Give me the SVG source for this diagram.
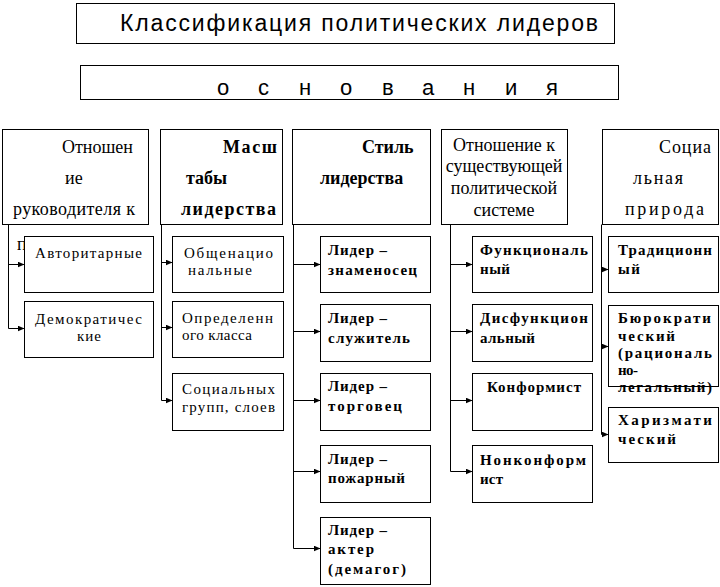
<svg xmlns="http://www.w3.org/2000/svg" width="720" height="587" viewBox="0 0 720 587">
<style>
.box{fill:#fff;stroke:#000;stroke-width:1}
.t{font-family:"Liberation Serif","Times New Roman",serif;fill:#000}
.h{font-size:18px}
.r{font-size:15px}
.s{font-size:15px;font-weight:bold}
.bd{font-weight:bold}
.sans{font-family:"Liberation Sans",Arial,sans-serif;fill:#000}
.ln{stroke:#000;stroke-width:1;fill:none}
</style>
<defs>
<marker id="ah" markerUnits="userSpaceOnUse" markerWidth="7" markerHeight="6" refX="7" refY="3" orient="auto"><path d="M0,0 L7,3 L0,6 z" fill="#000"/></marker>
</defs>
<rect width="720" height="587" fill="#fff"/>

<g id="title">
<rect class="box" x="76.5" y="3.5" width="538" height="40"/>
<text class="sans" x="120" y="31" font-size="23" textLength="478" lengthAdjust="spacing">Классификация политических лидеров</text>
</g>
<g id="osnovaniya">
<rect class="box" x="80.5" y="65.5" width="538" height="34"/>
<text class="sans" font-size="22" y="95" x="217 229 258 270 299 311 340 352 382 394 422 434 463 475 505 517 546">о с н о в а н и я</text>
</g>

<g id="connectors">
<path class="ln" d="M8.5,224.5 V328.5"/>
<path class="ln" d="M8.5,264.5 H24.5" marker-end="url(#ah)"/>
<path class="ln" d="M8.5,328.5 H24.5" marker-end="url(#ah)"/>

<path class="ln" d="M161.5,224.5 V400.5"/>
<path class="ln" d="M161.5,262.5 H172.5" marker-end="url(#ah)"/>
<path class="ln" d="M161.5,327.5 H172.5" marker-end="url(#ah)"/>
<path class="ln" d="M161.5,400.5 H172.5" marker-end="url(#ah)"/>

<path class="ln" d="M293.5,224.5 V548.5"/>
<path class="ln" d="M293.5,264.5 H320.5" marker-end="url(#ah)"/>
<path class="ln" d="M293.5,331.5 H320.5" marker-end="url(#ah)"/>
<path class="ln" d="M293.5,400.5 H320.5" marker-end="url(#ah)"/>
<path class="ln" d="M293.5,471.5 H320.5" marker-end="url(#ah)"/>
<path class="ln" d="M293.5,548.5 H320.5" marker-end="url(#ah)"/>

<path class="ln" d="M450.5,224.5 V471.5"/>
<path class="ln" d="M450.5,264.5 H472.5" marker-end="url(#ah)"/>
<path class="ln" d="M450.5,331.5 H472.5" marker-end="url(#ah)"/>
<path class="ln" d="M450.5,400.5 H472.5" marker-end="url(#ah)"/>
<path class="ln" d="M450.5,471.5 H472.5" marker-end="url(#ah)"/>

<path class="ln" d="M601.5,224.5 V434.5"/>
<path class="ln" d="M601.5,269.5 H608.5" marker-end="url(#ah)"/>
<path class="ln" d="M601.5,346.5 H608.5" marker-end="url(#ah)"/>
<path class="ln" d="M601.5,434.5 H608.5" marker-end="url(#ah)"/>
</g>

<g id="h1">
<rect class="box" x="2.5" y="129.5" width="146" height="95"/>
<text class="t h" x="62" y="153">Отношен</text>
<text class="t h" x="65" y="184">ие</text>
<text class="t h" x="13" y="215" textLength="122" lengthAdjust="spacing">руководителя к</text>
<text class="t h" x="17" y="250">п</text>
</g>
<g id="h2">
<rect class="box" x="160.5" y="129.5" width="122" height="95"/>
<text class="t h bd" x="223" y="153" textLength="54" lengthAdjust="spacing">Масш</text>
<text class="t h bd" x="186" y="184">табы</text>
<text class="t h bd" x="181" y="215" textLength="95" lengthAdjust="spacing">лидерства</text>
</g>
<g id="h3">
<rect class="box" x="292.5" y="129.5" width="138" height="95"/>
<text class="t h bd" x="362" y="153">Стиль</text>
<text class="t h bd" x="320" y="184">лидерства</text>
</g>
<g id="h4">
<rect class="box" x="441.5" y="129.5" width="126" height="95"/>
<text class="t h" x="504" y="151" text-anchor="middle">Отношение к</text>
<text class="t h" x="504" y="172" text-anchor="middle">существующей</text>
<text class="t h" x="504" y="194" text-anchor="middle">политической</text>
<text class="t h" x="504" y="216" text-anchor="middle">системе</text>
</g>
<g id="h5">
<rect class="box" x="602.5" y="129.5" width="116" height="95"/>
<text class="t h" x="659" y="153" textLength="52" lengthAdjust="spacing">Социа</text>
<text class="t h" x="633" y="184" textLength="50" lengthAdjust="spacing">льная</text>
<text class="t h" x="625" y="215" textLength="79" lengthAdjust="spacing">природа</text>
</g>

<g id="n1a">
<rect class="box" x="24.5" y="236.5" width="129" height="56"/>
<text class="t r" x="35" y="258" textLength="107" lengthAdjust="spacing">Авторитарные</text>
</g>
<g id="n1b">
<rect class="box" x="24.5" y="301.5" width="129" height="56"/>
<text class="t r" x="35" y="324" textLength="107" lengthAdjust="spacing">Демократичес</text>
<text class="t r" x="77" y="341" textLength="24" lengthAdjust="spacing">кие</text>
</g>

<g id="n2a">
<rect class="box" x="172.5" y="236.5" width="111" height="56"/>
<text class="t r" x="184" y="258" textLength="89" lengthAdjust="spacing">Общенацио</text>
<text class="t r" x="188" y="275" textLength="64" lengthAdjust="spacing">нальные</text>
</g>
<g id="n2b">
<rect class="box" x="172.5" y="301.5" width="111" height="56"/>
<text class="t r" x="182" y="323" textLength="91" lengthAdjust="spacing">Определенн</text>
<text class="t r" x="182" y="340" textLength="70" lengthAdjust="spacing">ого класса</text>
</g>
<g id="n2c">
<rect class="box" x="172.5" y="373.5" width="111" height="57"/>
<text class="t r" x="182" y="394" textLength="93" lengthAdjust="spacing">Социальных</text>
<text class="t r" x="182" y="412" textLength="93" lengthAdjust="spacing">групп, слоев</text>
</g>

<g id="n3a">
<rect class="box" x="320.5" y="236.5" width="110" height="56"/>
<text class="t s" x="328" y="255" textLength="59" lengthAdjust="spacing">Лидер –</text>
<text class="t s" x="328" y="275" textLength="89" lengthAdjust="spacing">знаменосец</text>
</g>
<g id="n3b">
<rect class="box" x="320.5" y="304.5" width="110" height="57"/>
<text class="t s" x="328" y="323" textLength="59" lengthAdjust="spacing">Лидер –</text>
<text class="t s" x="328" y="343" textLength="82" lengthAdjust="spacing">служитель</text>
</g>
<g id="n3c">
<rect class="box" x="320.5" y="373.5" width="110" height="57"/>
<text class="t s" x="328" y="391" textLength="59" lengthAdjust="spacing">Лидер –</text>
<text class="t s" x="328" y="411" textLength="74" lengthAdjust="spacing">торговец</text>
</g>
<g id="n3d">
<rect class="box" x="320.5" y="445.5" width="110" height="57"/>
<text class="t s" x="328" y="464" textLength="59" lengthAdjust="spacing">Лидер –</text>
<text class="t s" x="328" y="483" textLength="77" lengthAdjust="spacing">пожарный</text>
</g>
<g id="n3e">
<rect class="box" x="320.5" y="517.5" width="110" height="67"/>
<text class="t s" x="328" y="535" textLength="59" lengthAdjust="spacing">Лидер –</text>
<text class="t s" x="328" y="554" textLength="46" lengthAdjust="spacing">актер</text>
<text class="t s" x="328" y="574" textLength="78" lengthAdjust="spacing">(демагог)</text>
</g>

<g id="n4a">
<rect class="box" x="472.5" y="236.5" width="120" height="56"/>
<text class="t s" x="480" y="255" textLength="108" lengthAdjust="spacing">Функциональ</text>
<text class="t s" x="480" y="274" textLength="30" lengthAdjust="spacing">ный</text>
</g>
<g id="n4b">
<rect class="box" x="472.5" y="304.5" width="120" height="57"/>
<text class="t s" x="480" y="323" textLength="108" lengthAdjust="spacing">Дисфункцион</text>
<text class="t s" x="480" y="343" textLength="55" lengthAdjust="spacing">альный</text>
</g>
<g id="n4c">
<rect class="box" x="472.5" y="373.5" width="120" height="57"/>
<text class="t s" x="487" y="392" textLength="94" lengthAdjust="spacing">Конформист</text>
</g>
<g id="n4d">
<rect class="box" x="472.5" y="445.5" width="120" height="57"/>
<text class="t s" x="480" y="465" textLength="106" lengthAdjust="spacing">Нонконформ</text>
<text class="t s" x="480" y="484" textLength="23" lengthAdjust="spacing">ист</text>
</g>

<g id="n5a">
<rect class="box" x="608.5" y="236.5" width="110" height="56"/>
<text class="t s" x="618" y="255" textLength="94" lengthAdjust="spacing">Традиционн</text>
<text class="t s" x="618" y="274" textLength="22" lengthAdjust="spacing">ый</text>
</g>
<g id="n5b">
<rect class="box" x="608.5" y="305.5" width="110" height="81"/>
<text class="t s" x="618" y="323" textLength="93" lengthAdjust="spacing">Бюрократи</text>
<text class="t s" x="618" y="341" textLength="57" lengthAdjust="spacing">ческий</text>
<text class="t s" x="618" y="358" textLength="94" lengthAdjust="spacing">(рациональ</text>
<text class="t s" x="618" y="375" textLength="20" lengthAdjust="spacing">но-</text>
<text class="t s" x="618" y="392" textLength="94" lengthAdjust="spacing">легальный)</text>
</g>
<g id="n5c">
<rect class="box" x="608.5" y="407.5" width="110" height="55"/>
<text class="t s" x="618" y="425" textLength="94" lengthAdjust="spacing">Харизмати</text>
<text class="t s" x="618" y="444" textLength="58" lengthAdjust="spacing">ческий</text>
</g>
</svg>
